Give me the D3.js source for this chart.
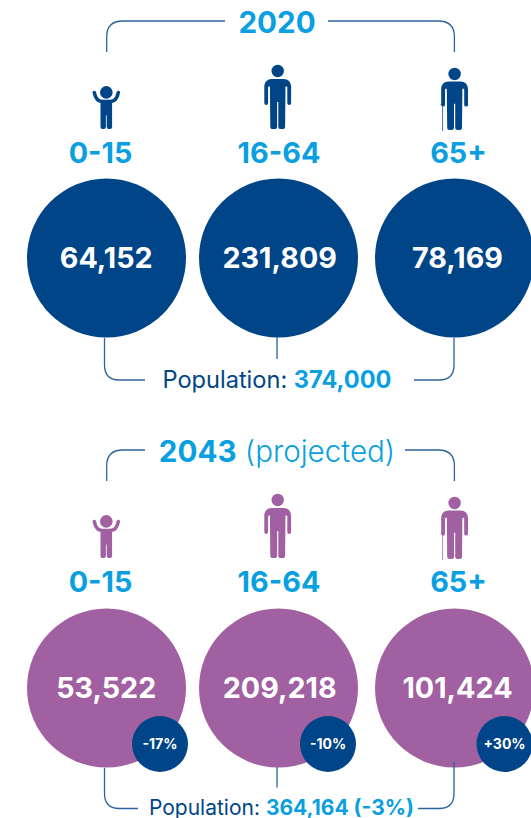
<!DOCTYPE html>
<html>
<head>
<meta charset="utf-8">
<script src="https://cdn.jsdelivr.net/npm/d3@7"></script>
<style>
  html, body { margin: 0; padding: 0; background: #fff; }
  svg { display: block; }
  text { font-family: Inter, "Open Sans", sans-serif; }
</style>
</head>
<body>
<svg id="chart" width="531" height="818"></svg>
<script>
// Age bands and population figures
const ageGroups = ["0-15", "16-64", "65+"];
const values2020 = [64152, 231809, 78169];
const values2043 = [53522, 209218, 101424];
const changes2043 = ["-17%", "-10%", "+30%"];
const total2020 = "374,000";
const total2043 = "364,164 (-3%)";

const NAVY = "#004587", SKY = "#0a9fe0", PURPLE = "#a060a1", RULE = "#2c639f";
const W = 531, H = 818;
const svg = d3.select("#chart").attr("viewBox", [0, 0, W, H]);

const x = d3.scaleOrdinal().domain(ageGroups).range([106.5, 278.5, 454.5]);
const valueX = d3.scaleOrdinal().domain(ageGroups).range([106.2, 279.7, 457.5]);
const ageX = d3.scaleOrdinal().domain(ageGroups).range([100.5, 279, 458.5]);
const badgeX = d3.scaleOrdinal().domain(ageGroups).range([160, 328, 504.5]);
const iconX = d3.scaleOrdinal().domain(ageGroups).range([106.3, 277.7, 454.6]);
const fmt = d3.format(",");

// Adult silhouette, origin at the midpoint between the feet
const bodyPath = "M-6,-50H6C10.5,-50 13.4,-47 13.4,-42V-26a1.9,1.9 0 0 1 -3.8,0V-41.6q0,-.9 -.9,-.9h-.9" +
  "L7.4,-2.6a2.6,2.6 0 0 1 -2.6,2.6h-1.6a2.6,2.6 0 0 1 -2.6,-2.6V-27h-1.2V-2.6a2.6,2.6 0 0 1 -2.6,2.6h-1.6a2.6,2.6 0 0 1 -2.6,-2.6" +
  "L-7.8,-42.5h-.9q-.9,0 -.9,.9V-26a1.9,1.9 0 0 1 -3.8,0V-42C-13.4,-47 -10.5,-50 -6,-50Z";
const childBody = "M-5.8,-27.5H5.8V-2a2,2 0 0 1 -2,2h-1.4a2,2 0 0 1 -2,-2V-13.5h-.8V-2a2,2 0 0 1 -2,2h-1.4a2,2 0 0 1 -2,-2Z";
const childArms = "M-12,-36.5C-11,-31 -8,-27.5 -4,-27.5H4C8,-27.5 11,-31 12,-36.5";

function drawIcon(g, group, color) {
  if (group === "0-15") {
    g.append("circle").attr("cy", -36.6).attr("r", 6.3).attr("fill", color);
    g.append("path").attr("d", childBody).attr("fill", color);
    g.append("path").attr("d", childArms).attr("fill", "none")
      .attr("stroke", color).attr("stroke-width", 3.6).attr("stroke-linecap", "round");
  } else if (group === "16-64") {
    g.append("circle").attr("cy", -58).attr("r", 6.2).attr("fill", color);
    g.append("path").attr("d", bodyPath).attr("fill", color);
  } else {
    g.append("line").attr("x1", -12).attr("x2", -12).attr("y1", -25).attr("y2", 1)
      .attr("stroke", color).attr("stroke-width", 1).attr("opacity", .75);
    g.append("line").attr("x1", -14).attr("x2", -10).attr("y1", -25.5).attr("y2", -25.5)
      .attr("stroke", color).attr("stroke-width", 1).attr("opacity", .75);
    g.append("circle").attr("cy", -56).attr("r", 6.2).attr("fill", color);
    g.append("path").attr("d", bodyPath).attr("fill", color).attr("transform", "scale(1,0.97)");
  }
}

// One panel: heading bracket, icons, age labels, circles, total bracket
function panel(cfg) {
  const g = svg.append("g");
  const r = 16, L = x("0-15") + .2, R = x("65+") - .1;

  g.append("path").attr("fill", "none").attr("stroke", RULE).attr("stroke-width", 1.3)
    .attr("d", `M${L},${cfg.topY + 31}V${cfg.topY + r}Q${L},${cfg.topY} ${L + r},${cfg.topY}H${cfg.headGap[0]}` +
      `M${cfg.headGap[1]},${cfg.topY}H${R - r}Q${R},${cfg.topY} ${R},${cfg.topY + r}V${cfg.topY + 31}`);

  const head = g.append("text").attr("x", cfg.headX).attr("y", cfg.topY + 11.5)
    .attr("text-anchor", "middle").attr("font-size", 29.6).attr("fill", SKY);
  head.append("tspan").attr("font-weight", 700).text(cfg.year);
  if (cfg.note) head.append("tspan").attr("font-weight", 300).text(" " + cfg.note);

  g.selectAll(".icon").data(ageGroups).join("g").attr("class", "icon")
    .attr("transform", d => `translate(${iconX(d)},${cfg.feetY + (d === "65+" ? 1 : 0)})`)
    .each(function (d) { drawIcon(d3.select(this), d, cfg.color); });

  g.selectAll(".age").data(ageGroups).join("text").attr("class", "age")
    .attr("x", d => ageX(d))
    .attr("y", cfg.feetY + 34)
    .attr("text-anchor", "middle").attr("font-size", 28.8).attr("font-weight", 700)
    .attr("fill", SKY).text(d => d);

  const rows = ageGroups.map((d, i) => ({ group: d, value: cfg.values[i], change: cfg.changes && cfg.changes[i] }));

  g.selectAll(".disc").data(rows).join("circle").attr("class", "disc")
    .attr("cx", d => x(d.group)).attr("cy", cfg.cy).attr("r", 79.5).attr("fill", cfg.color);

  g.selectAll(".val").data(rows).join("text").attr("class", "val")
    .attr("x", d => valueX(d.group)).attr("y", cfg.cy + 10)
    .attr("text-anchor", "middle").attr("font-size", 28.7).attr("font-weight", 700)
    .attr("fill", "#fff").text(d => fmt(d.value));

  // Bracket tying the three circles to the population total
  const bx = 104.5, mx = 277, rx = 454, by = cfg.totalY, br = 15;
  g.append("path").attr("fill", "none").attr("stroke", RULE).attr("stroke-width", 1.3)
    .attr("d", `M${bx},${cfg.cy + 80}V${by - br}Q${bx},${by} ${bx + br},${by}H${cfg.totalGap[0]}` +
      `M${mx},${cfg.cy + 79}V${by - 21}` +
      `M${rx},${cfg.rightTop}V${by - br}Q${rx},${by} ${rx - br},${by}H${cfg.totalGap[1]}`);

  const total = g.append("text").attr("x", cfg.totalX).attr("y", cfg.totalBase)
    .attr("text-anchor", "middle").attr("font-size", cfg.totalSize);
  total.append("tspan").attr("fill", NAVY).attr("font-weight", 400).text("Population: ");
  total.append("tspan").attr("fill", SKY).attr("font-weight", 700).text(cfg.total);

  if (cfg.changes) {
    g.selectAll(".badge").data(rows).join("circle").attr("class", "badge")
      .attr("cx", d => badgeX(d.group)).attr("cy", cfg.cy + 56).attr("r", 28).attr("fill", NAVY);
    g.selectAll(".pct").data(rows).join("text").attr("class", "pct")
      .attr("x", d => badgeX(d.group)).attr("y", cfg.cy + 61)
      .attr("text-anchor", "middle").attr("font-size", 14).attr("font-weight", 700)
      .attr("fill", "#fff").text(d => d.change);
  }
}

panel({
  year: "2020", color: NAVY, values: values2020, total: total2020,
  topY: 21, headX: 277, headGap: [225, 328], feetY: 129, cy: 258,
  totalY: 380, totalBase: 388, totalX: 277, totalGap: [145, 414], totalSize: 23.6, rightTop: 338
});
panel({
  year: "2043", note: "(projected)", color: PURPLE, values: values2043, changes: changes2043, total: total2043,
  topY: 450, headX: 277, headGap: [145, 405], feetY: 558, cy: 688,
  totalY: 808.5, totalBase: 815, totalX: 281.5, totalGap: [138, 418], totalSize: 21, rightTop: 762
});
</script>
</body>
</html>
